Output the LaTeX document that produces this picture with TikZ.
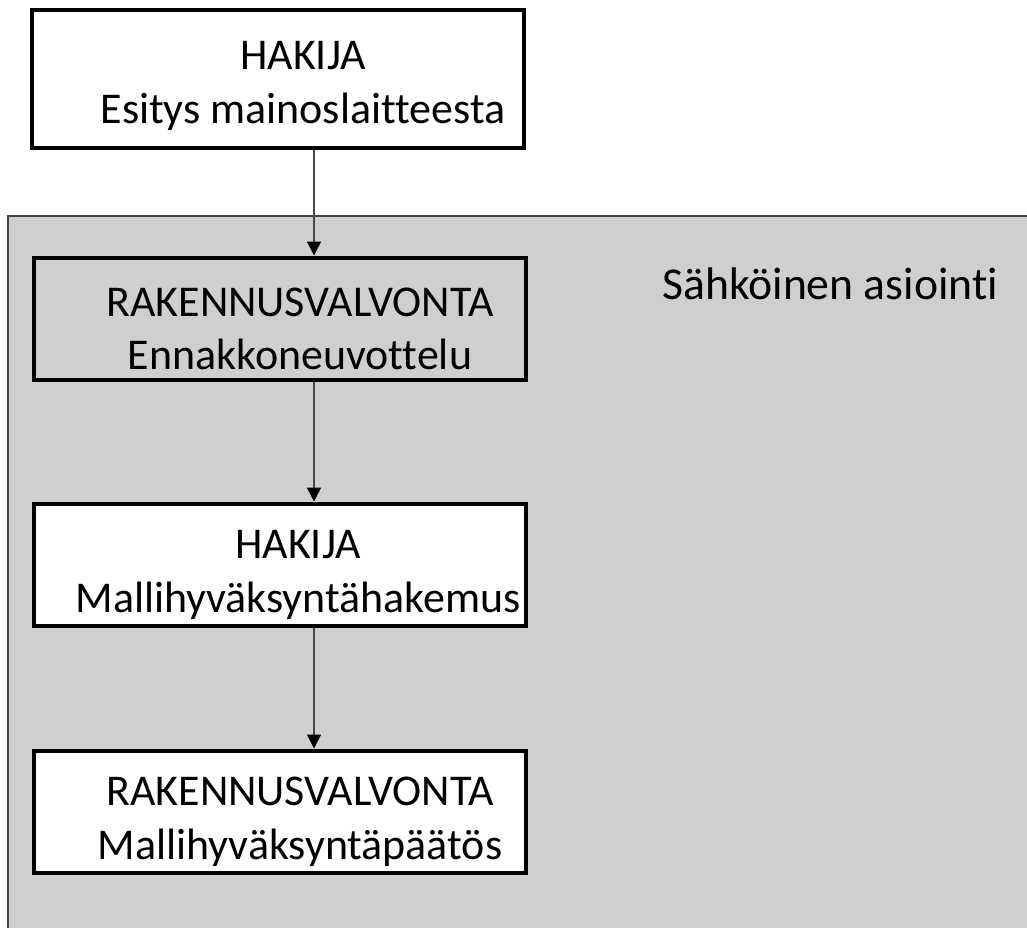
\documentclass[tikz,border=0pt]{standalone}
\usepackage{fontspec}
\setmainfont{Carlito}[Ligatures=NoCommon]
\usetikzlibrary{arrows.meta}
\definecolor{areagray}{RGB}{209,206,207}
\definecolor{linegray}{RGB}{70,70,70}
\tikzset{
  stagebox/.style={draw=black, line width=0.08cm, minimum width=9.84cm, minimum height=2.46cm, inner sep=0pt},
  stagetext/.style={align=center, font=\fontsize{25}{30.5}\selectfont, inner sep=0pt},
  flowarrow/.style={draw=linegray, line width=0.03cm, -{Triangle[length=0.28cm, width=0.28cm, black]}}
}
\begin{document}
\begin{tikzpicture}[x=0.02cm, y=-0.02cm]
			%%%%% area %%%%%
			\useasboundingbox (0,0) rectangle (1027,928);
			\begin{scope}
			\clip (0,0) rectangle (1027,928);
			\draw[fill=areagray, draw=linegray, line width=0.04cm] (8,216) rectangle (1040,940);
			\end{scope}
			\node[stagetext, font=\fontsize{26}{30.5}\selectfont, anchor=west] (area) at (662,284) {Sähköinen asiointi};
			
			%%%%% boxes %%%%%
			\node[stagebox, fill=white, minimum height=2.76cm] (esitys) at (278,79) {};
			\node[stagebox, fill=areagray] (ennakko) at (280,319) {};
			\node[stagebox, fill=white] (hakemus) at (280,565) {};
			\node[stagebox, fill=white] (paatos) at (280,812) {};
			
			%%%%% texts %%%%%
			\node[stagetext] at (303,86) {HAKIJA\\Esitys mainoslaitteesta};
			\node[stagetext] at (300,329) {RAKENNUSVALVONTA\\Ennakkoneuvottelu};
			\node[stagetext] at (298,575) {HAKIJA\\Mallihyväksyntähakemus};
			\node[stagetext] at (300,822) {RAKENNUSVALVONTA\\Mallihyväksyntäpäätös};
			
			%%%%% arrows %%%%%
			\draw[flowarrow] (esitys.south -| 314,0) -- (ennakko.north -| 314,0);
			\draw[flowarrow] (ennakko.south -| 314,0) -- (hakemus.north -| 314,0);
			\draw[flowarrow] (hakemus.south -| 314,0) -- (paatos.north -| 314,0);
\end{tikzpicture}
\end{document}
